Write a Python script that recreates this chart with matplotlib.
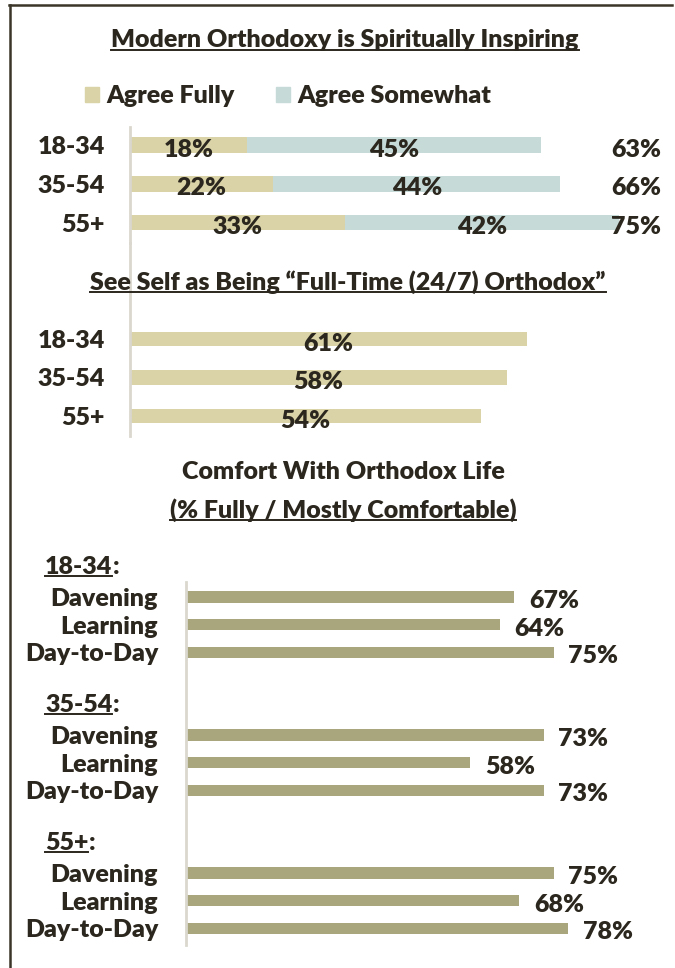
import matplotlib
matplotlib.use("Agg")
import matplotlib.pyplot as plt
from matplotlib.lines import Line2D
from matplotlib.patches import Patch
from matplotlib.transforms import blended_transform_factory
import numpy as np

# ---------------- data ----------------
title1 = "Modern Orthodoxy is Spiritually Inspiring"
title2 = "See Self as Being \u201cFull-Time (24/7) Orthodox\u201d"
title3a = "Comfort With Orthodox Life"
title3b = "(% Fully / Mostly Comfortable)"

age_groups = ["18-34", "35-54", "55+"]
agree_fully = [18, 22, 33]
agree_somewhat = [45, 44, 42]
agree_total = [63, 66, 75]

full_time = [61, 58, 54]

comfort_items = ["Davening", "Learning", "Day-to-Day"]
comfort_18_34 = [67, 64, 75]
comfort_35_54 = [73, 58, 73]
comfort_55_plus = [75, 68, 78]

# ---------------- style ----------------
W, H = 675, 968
TXT = "#2B271E"
TAN = "#D9D3A7"
BLUE = "#C6DAD8"
KHAKI = "#A9A67D"
AXC = "#DAD7CE"
FONT = ["Lato", "DejaVu Sans"]
WT = "heavy"
FS = 18
plt.rcParams["font.family"] = FONT
plt.rcParams["font.weight"] = WT

fig = plt.figure(figsize=(W / 100, H / 100), dpi=100)
fig.patch.set_facecolor("white")


def px_axes(l, t, r, b):
    return fig.add_axes([l / W, 1 - b / H, (r - l) / W, (b - t) / H])


def set_y_px(ax, top, bottom, y0, step):
    ax.set_ylim((bottom - y0) / step, (top - y0) / step)


def style_axes(ax):
    for s in ["top", "right", "bottom"]:
        ax.spines[s].set_visible(False)
    ax.spines["left"].set_color(AXC)
    ax.spines["left"].set_linewidth(2)
    ax.set_xticks([])
    ax.tick_params(axis="y", length=0, labelsize=FS, labelcolor=TXT)
    ax.patch.set_visible(False)


underlines = []


def ftext(x, y, s, size=FS, underline=False, ha="center"):
    t = fig.text(x / W, 1 - y / H, s, ha=ha, va="center", fontsize=size,
                 fontweight=WT, color=TXT)
    if underline:
        underlines.append(t)
    return t


def lbl(ax, x, y, s, ha="center", **kw):
    return ax.text(x, y, s, ha=ha, va="center", fontsize=FS, fontweight=WT,
                   color=TXT, **kw)


# ---------------- chart 1 ----------------
ax1 = px_axes(130, 127, 675, 243)
style_axes(ax1)
sc1 = 6.52
ax1.set_xlim(0, 545 / sc1)
set_y_px(ax1, 127, 243, 145, 38.8)
y1 = np.arange(len(age_groups))
ax1.barh(y1, agree_fully, height=0.4, color=TAN, label="Agree Fully")
ax1.barh(y1, agree_somewhat, left=agree_fully, height=0.4, color=BLUE,
         label="Agree Somewhat")
for i in range(len(age_groups)):
    lbl(ax1, agree_fully[i] / 2, y1[i] + 0.12, f"{agree_fully[i]}%")
    lbl(ax1, agree_fully[i] + agree_somewhat[i] / 2, y1[i] + 0.12,
        f"{agree_somewhat[i]}%")
    lbl(ax1, 77.6, y1[i] + 0.12, f"{agree_total[i]}%")
ax1.set_yticks(y1)
ax1.set_yticklabels(age_groups, fontweight=WT)
ax1.tick_params(axis="y", pad=18)

leg = fig.legend(handles=[Patch(color=TAN), Patch(color=BLUE)],
                 labels=["Agree Fully", "Agree Somewhat"], ncol=2,
                 loc="center left", bbox_to_anchor=(85 / W, 1 - 96 / H),
                 frameon=False, borderpad=0, borderaxespad=0,
                 handlelength=0.55, handleheight=0.55,
                 handletextpad=0.3, columnspacing=1.65,
                 prop={"family": FONT, "weight": WT, "size": FS})
for t in leg.get_texts():
    t.set_color(TXT)

ftext(345, 40, title1, underline=True)

# ---------------- chart 2 ----------------
ax2 = px_axes(130, 243, 675, 436)
style_axes(ax2)
sc2 = 6.5
ax2.set_xlim(0, 545 / sc2)
set_y_px(ax2, 243, 436, 339, 38.5)
y2 = np.arange(len(age_groups))
ax2.barh(y2, full_time, height=0.38, color=TAN)
for i in range(len(age_groups)):
    lbl(ax2, full_time[i] / 2, y2[i] + 0.12, f"{full_time[i]}%")
ax2.set_yticks(y2)
ax2.set_yticklabels(age_groups, fontweight=WT)
ax2.tick_params(axis="y", pad=18)

ftext(348, 282, title2, underline=True)

# ---------------- chart 3 ----------------
ax3 = px_axes(186, 582, 675, 945)
style_axes(ax3)
sc3 = 4.9
ax3.set_xlim(0, 489 / sc3)
set_y_px(ax3, 582, 945, 597, 27.6)
groups = [comfort_18_34, comfort_35_54, comfort_55_plus]
ypos, vals, labs = [], [], []
for g, vals_g in enumerate(groups):
    for j, v in enumerate(vals_g):
        ypos.append(g * 5 + j)
        vals.append(v)
        labs.append(comfort_items[j])
ax3.barh(ypos, vals, height=0.4, color=KHAKI)
for y, v in zip(ypos, vals):
    lbl(ax3, v + 3.0, y + 0.15, f"{v}%", ha="left")
ax3.set_yticks(ypos)
ax3.set_yticklabels(labs, fontweight=WT)
ax3.tick_params(axis="y", pad=20)

header_tr = blended_transform_factory(fig.transFigure, ax3.transData)
headers = []
for g, name in enumerate(age_groups):
    t = ax3.text(45 / W, g * 5 - 1.1, name, transform=header_tr, ha="left",
                 va="center", fontsize=FS, fontweight=WT, color=TXT,
                 clip_on=False)
    underlines.append(t)
    headers.append(t)

ftext(343, 472, title3a)
ftext(343, 510, title3b, underline=True)

# ---------------- frame (top + left lines) ----------------
fig.add_artist(Line2D([9 / W, 672 / W], [1 - 5 / H, 1 - 5 / H], color="#3A3528",
                      lw=1.8, transform=fig.transFigure))
fig.add_artist(Line2D([9.5 / W, 9.5 / W], [0, 1 - 5 / H], color="#3A3528",
                      lw=1.8, transform=fig.transFigure))

# ---------------- underlines & colons ----------------
fig.canvas.draw()
r = fig.canvas.get_renderer()
inv = fig.transFigure.inverted()
for t in underlines:
    bb = t.get_window_extent(r)
    (x0, y0), (x1, _) = inv.transform([(bb.x0, bb.y0), (bb.x1, bb.y1)])
    yl = y0 + 1.5 / H
    fig.add_artist(Line2D([x0, x1], [yl, yl], color=TXT, lw=1.4,
                          transform=fig.transFigure))
for t in headers:
    bb = t.get_window_extent(r)
    x1 = inv.transform((bb.x1, bb.y0))[0]
    xt, yt = t.get_position()
    ax3.text(x1, yt, ":", transform=header_tr, ha="left", va="center",
             fontsize=FS, fontweight=WT, color=TXT, clip_on=False)

fig.savefig("out.png", dpi=100, facecolor="white")
